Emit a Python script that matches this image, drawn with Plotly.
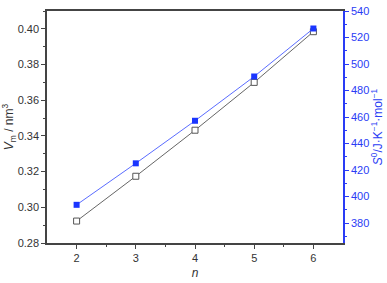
import plotly.graph_objects as go

n = [2, 3, 4, 5, 6]
vm = [0.2923, 0.3174, 0.3432, 0.3700, 0.3984]
s0 = [393.8, 425.1, 457.2, 490.6, 526.8]

font = "Liberation Sans, Arial, sans-serif"
gray = "#444444"
blue = "#2a3cf5"

fig = go.Figure()
fig.add_trace(go.Scatter(
    x=n, y=vm, mode="lines+markers",
    line=dict(color="#666666", width=1),
    marker=dict(symbol="square", size=6, color="white",
                line=dict(color="#555555", width=1)),
    yaxis="y", showlegend=False))
fig.add_trace(go.Scatter(
    x=n, y=s0, mode="lines+markers",
    line=dict(color="#5a6cff", width=1),
    marker=dict(symbol="square", size=6, color="#1a35ff",
                line=dict(color="#1a35ff", width=0)),
    yaxis="y2", showlegend=False))

fig.update_layout(
    width=387, height=283,
    margin=dict(l=47, r=38, t=5, b=33),
    paper_bgcolor="white", plot_bgcolor="white",
    font=dict(family=font, size=11, color="#333333"),
    xaxis=dict(range=[1.5, 6.5], tickvals=n, ticks="outside", ticklen=4,
               tickwidth=1, tickcolor=gray, showgrid=False, zeroline=False,
               showline=True, linecolor=gray, linewidth=1.5, mirror=True,
               minor=dict(tickvals=[2.5, 3.5, 4.5, 5.5], ticks="outside",
                          ticklen=2, tickcolor=gray),
               title=dict(text="<i>n</i>", standoff=6, font=dict(size=12))),
    yaxis=dict(range=[0.28, 0.41], tickvals=[0.28, 0.30, 0.32, 0.34, 0.36, 0.38, 0.40],
               tickformat=".2f", ticks="outside", ticklen=4, tickcolor=gray,
               showgrid=False, zeroline=False, showline=True, linecolor=gray,
               linewidth=1.5,
               minor=dict(dtick=0.01, ticks="outside", ticklen=2, tickcolor=gray),
               title=dict(text="<i>V</i><sub>m</sub> / nm<sup>3</sup>", standoff=4,
                          font=dict(size=12))),
    yaxis2=dict(range=[365, 540], overlaying="y", side="right",
                tickvals=[380, 400, 420, 440, 460, 480, 500, 520, 540],
                ticks="outside", ticklen=4, tickcolor=blue,
                tickfont=dict(color=blue), showgrid=False, zeroline=False,
                showline=True, linecolor=blue, linewidth=1.5,
                minor=dict(dtick=10, ticks="outside", ticklen=2, tickcolor=blue),
                title=dict(text="<i>S</i><sup>0</sup>/J·K<sup>−1</sup>·mol<sup>−1</sup>",
                           standoff=4, font=dict(size=12, color=blue))),
)

fig.write_html("out.html")
